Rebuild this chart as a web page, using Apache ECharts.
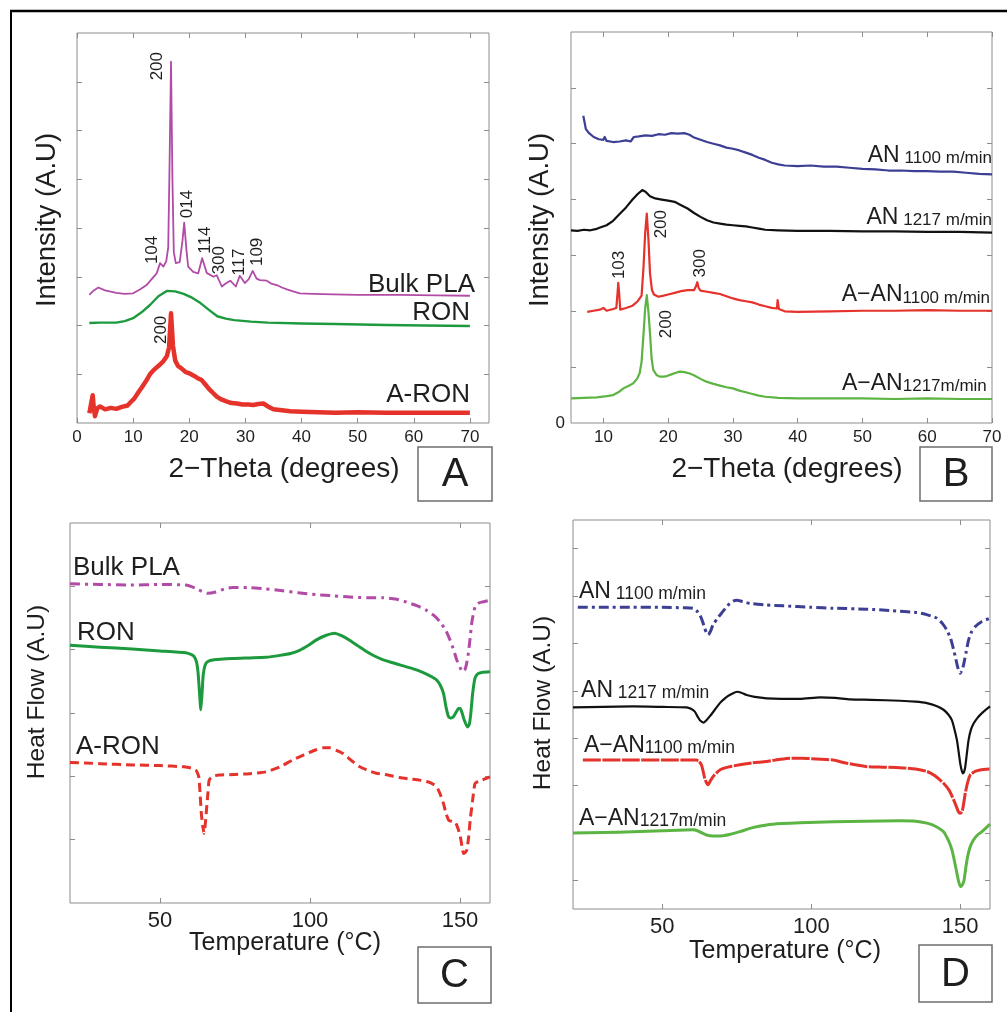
<!DOCTYPE html>
<html>
<head>
<meta charset="utf-8">
<script src="https://cdn.jsdelivr.net/npm/echarts@6/dist/echarts.min.js"></script>
<style>
html, body { margin: 0; padding: 0; background: #fff; }
#main { width: 1007px; height: 1012px; }
</style>
</head>
<body>
<div id="main"></div>
<script>
// XRD (panels A, B) and DSC (panels C, D) curves

// ---- panel A : 2-theta vs intensity
var aBulkPLA = [[2.2,2.63],[3,2.72],[3.8,2.78],[5,2.72],[7,2.67],[8.5,2.65],[10,2.66],[11.2,2.74],[12.4,2.83],[13.3,2.95],[14.2,3.07],[14.8,3.28],[15.4,3.21],[15.9,3.32],[16.25,3.6],[16.45,5.0],[16.75,7.41],[17.0,5.0],[17.25,3.5],[17.6,3.28],[18.3,3.30],[18.8,3.75],[19.1,4.11],[19.5,3.55],[19.8,3.21],[20.7,3.10],[21.6,3.07],[22.3,3.38],[23.1,3.08],[24.3,3.00],[24.9,3.03],[25.8,2.80],[26.5,2.86],[27.3,2.92],[28.3,2.80],[29.0,3.02],[29.9,2.87],[30.6,2.95],[31.3,3.12],[32.0,2.96],[32.6,2.93],[33.8,2.92],[34.6,2.86],[35.6,2.83],[36.5,2.78],[37.4,2.74],[38.5,2.70],[39.7,2.66],[42,2.65],[45.7,2.64],[50,2.63],[57.5,2.63],[64,2.62],[70,2.61]];
var aRON = [[2.2,2.05],[4,2.06],[7,2.06],[8.5,2.09],[10,2.15],[11.5,2.27],[13,2.42],[14.5,2.60],[16,2.71],[17.5,2.70],[19,2.65],[20.5,2.57],[22,2.46],[23.5,2.32],[25,2.19],[26.5,2.14],[28,2.11],[31,2.08],[34,2.06],[40,2.04],[46,2.03],[55,2.01],[62,2.00],[70,1.99]];
var aARON = [[2.2,0.20],[2.6,0.45],[2.8,0.57],[3.0,0.30],[3.2,0.14],[3.6,0.30],[4.1,0.34],[5,0.28],[6,0.31],[7,0.29],[8,0.33],[9,0.36],[9.5,0.42],[10.2,0.50],[11,0.64],[11.6,0.74],[12.3,0.86],[13,1.00],[13.6,1.08],[14.2,1.14],[14.8,1.20],[15.4,1.27],[16,1.37],[16.4,1.55],[16.75,2.25],[17.1,1.58],[17.5,1.28],[18,1.17],[18.6,1.12],[19.3,1.05],[20,1.02],[20.8,0.97],[21.5,0.92],[22.2,0.88],[22.8,0.80],[23.5,0.70],[24.2,0.62],[24.9,0.54],[25.6,0.49],[26.5,0.45],[27.5,0.41],[28.5,0.40],[29.5,0.38],[30.5,0.38],[31.4,0.37],[32.3,0.39],[33.2,0.40],[34,0.34],[35,0.28],[36.5,0.26],[38,0.24],[40,0.23],[43,0.22],[46,0.21],[50,0.22],[55,0.21],[60,0.21],[65,0.21],[70,0.21]];
var aXLabels = [0, 10, 20, 30, 40, 50, 60, 70];
var aYTicks = [1, 2, 3, 4, 5, 6, 7];
var aPeaks = [['200',14.25,7.32],['104',13.36,3.55],['014',19.6,4.49],['114',22.8,3.75],['300',25.3,3.34],['117',28.9,3.30],['109',32.1,3.51],['200',15.1,1.91]];
var aNames = [['Bulk PLA',70.9,2.84],['RON',70.0,2.25],['A-RON',70.0,0.58]];

// ---- panel B
var bAN1100 = [[6.9,5.50],[7.1,5.38],[7.3,5.26],[7.7,5.20],[8.5,5.12],[9.3,5.08],[10,5.07],[10.2,5.12],[10.5,5.05],[11.5,5.03],[12.5,5.04],[13.5,5.06],[14.2,5.04],[14.7,5.12],[15.5,5.13],[16.5,5.15],[17.5,5.14],[18.5,5.17],[19.5,5.16],[20.5,5.19],[21.5,5.18],[22.5,5.19],[23.3,5.16],[24,5.11],[25,5.07],[26,5.03],[27,5.00],[28,4.97],[29,4.93],[30,4.91],[31,4.88],[32,4.84],[33,4.80],[34,4.75],[35,4.71],[36,4.66],[37,4.63],[38,4.61],[40,4.60],[42,4.61],[44,4.59],[46,4.59],[48,4.57],[50,4.55],[52,4.54],[54,4.52],[56,4.52],[58,4.51],[60,4.51],[62,4.50],[64,4.50],[66,4.48],[68,4.46],[70,4.45]];
var bAN1217 = [[5,3.45],[6,3.44],[7,3.46],[8,3.45],[8.8,3.47],[9.5,3.50],[10.5,3.54],[11.5,3.62],[12.5,3.74],[13.5,3.86],[14.5,4.00],[15.3,4.10],[16,4.17],[16.5,4.14],[17.2,4.06],[18,4.02],[19,4.00],[20,3.98],[21,3.96],[22,3.90],[23,3.84],[24,3.76],[25,3.69],[26,3.63],[27,3.59],[28,3.57],[29,3.55],[30,3.54],[31,3.53],[32,3.52],[33,3.50],[34,3.48],[35,3.46],[37,3.45],[40,3.44],[45,3.44],[50,3.43],[55,3.43],[60,3.42],[65,3.42],[70,3.41]];
var bAAN1100 = [[7.5,1.99],[8.5,2.01],[9.5,2.03],[10,2.06],[10.5,2.01],[11.5,2.04],[12.0,2.06],[12.2,2.35],[12.3,2.51],[12.45,2.30],[12.6,2.03],[13.5,2.06],[14.5,2.10],[15.3,2.18],[15.9,2.28],[16.2,2.80],[16.45,3.40],[16.7,3.75],[16.95,3.30],[17.2,2.68],[17.5,2.38],[17.8,2.30],[18.5,2.26],[19.3,2.28],[20,2.30],[21,2.33],[22,2.36],[23,2.38],[24,2.38],[24.3,2.45],[24.5,2.52],[24.7,2.42],[25,2.37],[26,2.35],[27,2.33],[28,2.31],[29,2.27],[30,2.23],[31,2.20],[32,2.18],[33,2.16],[34,2.12],[35,2.09],[36,2.06],[36.8,2.05],[36.9,2.20],[37.1,2.04],[38,2.00],[40,1.99],[45,2.00],[50,2.01],[55,2.01],[60,2.02],[65,2.01],[70,2.01]];
var bAAN1217 = [[5,0.44],[7,0.45],[9,0.46],[10.5,0.48],[11.5,0.50],[12.3,0.55],[13.1,0.62],[14,0.67],[14.6,0.71],[15.2,0.79],[15.6,0.89],[15.9,1.10],[16.2,1.60],[16.45,2.05],[16.7,2.29],[16.95,2.00],[17.2,1.60],[17.45,1.15],[17.7,0.95],[18.2,0.86],[18.7,0.83],[19.3,0.83],[19.8,0.84],[20.5,0.87],[21.2,0.90],[21.8,0.92],[22.5,0.91],[23.2,0.89],[23.9,0.86],[25,0.79],[25.9,0.74],[27,0.70],[28,0.67],[29,0.64],[30,0.62],[31,0.58],[32,0.55],[33,0.52],[34,0.49],[35,0.47],[37,0.45],[40,0.44],[45,0.44],[50,0.44],[55,0.43],[60,0.44],[65,0.43],[70,0.43]];
var bXLabels = [10, 20, 30, 40, 50, 60, 70];
var bYTicks = [1, 2, 3, 4, 5, 6];
var bPeaks = [['200',19.0,3.56],['103',12.4,2.83],['300',24.9,2.86],['200',19.7,1.77]];
var bNames = [['AN',' 1100 m/min',70,4.81],['AN',' 1217 m/min',70,3.70],['A\u2212AN','1100 m/min',69.7,2.31],['A\u2212AN','1217m/min',69.2,0.72]];

// ---- panel C : temperature vs heat flow
var cBulkPLA = [[20,5.04],[30,5.03],[40,5.02],[50,5.03],[58.6,5.02],[61.9,4.97],[64,4.92],[65.8,4.89],[68.6,4.91],[71.5,4.96],[74.2,4.98],[79.8,4.98],[85,4.96],[90.9,4.93],[96,4.90],[102,4.87],[108,4.85],[113.2,4.83],[119,4.82],[124.4,4.82],[128.5,4.80],[132.2,4.75],[135.8,4.69],[138.9,4.62],[141.3,4.54],[143.3,4.44],[145.2,4.31],[146.7,4.15],[148,3.98],[148.9,3.84],[150,3.72],[150.9,3.65],[151.6,3.68],[152.2,3.78],[152.8,3.95],[153.3,4.15],[154,4.45],[155,4.67],[156,4.73],[157.2,4.75],[160,4.78]];
var cRON = [[20,4.07],[30,4.04],[40.7,4.01],[50,3.98],[58.6,3.95],[60.5,3.92],[61.4,3.89],[62.2,3.80],[62.7,3.63],[63.2,3.30],[63.6,3.05],[64.0,3.30],[64.4,3.60],[65,3.75],[65.8,3.81],[68,3.84],[74.2,3.86],[80,3.87],[85.3,3.88],[90,3.91],[93.5,3.94],[96.5,3.99],[99.5,4.07],[102,4.15],[105,4.22],[108.2,4.26],[110.5,4.22],[113.2,4.15],[116,4.06],[118.8,3.97],[121.5,3.90],[124.4,3.84],[130,3.76],[135.5,3.68],[139,3.61],[141,3.56],[142.2,3.52],[143.3,3.45],[144.5,3.31],[145.4,3.08],[146.2,2.94],[147,2.92],[147.8,2.94],[148.8,3.02],[149.5,3.07],[150.1,3.07],[150.7,3.00],[151.4,2.89],[152.5,2.78],[153.1,2.82],[153.6,2.99],[154.2,3.30],[155,3.55],[156,3.62],[157.2,3.64],[160,3.65]];
var cARON = [[20,2.22],[30,2.20],[40.7,2.18],[50,2.17],[58,2.15],[60.5,2.13],[61.9,2.10],[62.6,2.04],[63,1.97],[63.4,1.70],[63.8,1.40],[64.3,1.20],[64.7,1.10],[65.1,1.25],[65.5,1.47],[66,1.75],[66.4,1.94],[67.5,2.00],[69.7,2.02],[75,2.03],[79.8,2.04],[85.3,2.07],[90,2.15],[94.3,2.26],[98,2.34],[102,2.42],[104.5,2.45],[106.5,2.45],[108.8,2.41],[111,2.36],[113.8,2.25],[116.6,2.15],[119.5,2.09],[122.1,2.05],[126,2.02],[129.9,1.98],[133,1.96],[136.6,1.94],[139.5,1.91],[141.3,1.87],[142.2,1.84],[143.4,1.72],[144.5,1.57],[145.3,1.42],[146.2,1.31],[147.3,1.29],[148.4,1.28],[149.3,1.18],[150.1,1.05],[150.7,0.88],[151.2,0.78],[151.8,0.80],[152.3,0.84],[152.9,1.05],[153.4,1.31],[154.2,1.62],[155,1.89],[156,1.92],[157.2,1.94],[160,1.99]];
var cXLabels = [50, 100, 150];
var cYTicks = [1, 2, 3, 4, 5];
var cNames = [['Bulk PLA',21,5.30],['RON',22.3,4.26],['A-RON',22,2.47]];

// ---- panel D
var dAN1100 = [[21.6,5.76],[30,5.76],[40,5.76],[50,5.76],[57,5.75],[60.3,5.74],[61.6,5.68],[62.6,5.60],[63.5,5.46],[64.2,5.32],[64.8,5.22],[65.4,5.18],[66.2,5.26],[67,5.39],[68.4,5.52],[69.8,5.63],[71.2,5.74],[72.6,5.84],[73.8,5.89],[74.9,5.91],[77,5.88],[79.4,5.84],[85,5.81],[90.6,5.79],[100,5.76],[107.4,5.74],[118.6,5.72],[127,5.69],[135.4,5.65],[139,5.60],[142.2,5.53],[144,5.42],[145.5,5.28],[146.8,5.10],[147.8,4.86],[148.5,4.68],[149.1,4.51],[150,4.37],[150.6,4.43],[151.1,4.54],[152,4.82],[152.8,5.07],[153.8,5.24],[155,5.35],[157.3,5.46],[160,5.53]];
var dAN1217 = [[20,3.65],[30,3.66],[40.1,3.67],[50,3.66],[58.1,3.65],[59.6,3.62],[60.9,3.56],[61.8,3.46],[62.6,3.38],[63.9,3.33],[64.8,3.38],[65.9,3.46],[67.5,3.59],[69.3,3.74],[71,3.84],[72.6,3.91],[75.1,3.98],[76.5,3.96],[78.3,3.91],[81,3.87],[85,3.84],[90,3.83],[96.2,3.83],[102.9,3.86],[108,3.85],[113,3.82],[120,3.81],[129.8,3.79],[135,3.77],[138.8,3.74],[142,3.68],[144.4,3.60],[146,3.50],[147.2,3.38],[148.1,3.18],[148.9,2.96],[149.5,2.70],[150,2.47],[150.5,2.32],[150.9,2.26],[151.3,2.29],[151.7,2.40],[152.2,2.66],[152.8,2.96],[153.6,3.18],[154.5,3.31],[155.8,3.43],[157.3,3.53],[160,3.67]];
var dAAN1100 = [[23.3,2.54],[30,2.54],[40,2.54],[50,2.54],[61.4,2.54],[62.3,2.51],[63.1,2.44],[63.7,2.30],[64.2,2.16],[64.8,2.06],[65.4,2.02],[66.1,2.10],[67,2.19],[69.3,2.33],[72,2.39],[76,2.44],[80,2.48],[85,2.51],[89,2.55],[92.8,2.58],[97,2.58],[101.8,2.56],[107.4,2.54],[110,2.50],[113,2.46],[118.6,2.40],[124,2.39],[129.8,2.38],[135,2.35],[138.8,2.30],[141.5,2.21],[144.4,2.05],[146.3,1.90],[147.8,1.70],[148.7,1.56],[149.4,1.45],[150,1.42],[150.6,1.45],[151.1,1.60],[151.7,1.84],[152.5,2.07],[153.4,2.23],[155,2.30],[156.7,2.33],[160,2.35]];
var dAAN1217 = [[20,1.00],[30,1.01],[40.1,1.03],[50,1.05],[60.3,1.07],[61.8,1.05],[63.1,1.01],[64.8,0.96],[67,0.94],[69.8,0.94],[72.5,0.97],[76,1.03],[80,1.11],[85,1.17],[90,1.20],[96.2,1.22],[107.4,1.24],[118,1.25],[129.8,1.26],[135,1.25],[138.8,1.21],[141.5,1.15],[144.4,1.03],[146,0.85],[147.2,0.65],[148.1,0.40],[148.9,0.15],[149.6,-0.05],[150.2,-0.13],[150.8,-0.08],[151.3,0.01],[151.9,0.28],[152.5,0.51],[153.4,0.72],[154.5,0.86],[155.8,0.96],[157.3,1.03],[160,1.19]];
var dXLabels = [50, 100, 150];
var dYTicks = [0, 1, 2, 3, 4, 5, 6, 7];
var dNames = [['AN',' 1100 m/min',22,6.11],['AN',' 1217 m/min',22.7,4.03],['A\u2212AN','1100 m/min',23.7,2.87],['A\u2212AN','1217m/min',22,1.33]];

var FONT = '"Liberation Sans", Arial, Helvetica, sans-serif';
var FRAME = '#8c8c8c';
var INK = '#1e1e1e';

var panels = [
  {grid: {left: 77, top: 33, width: 412, height: 390}, xMin: 0, xMax: 73.4, xTicks: aXLabels, xLabels: aXLabels,
   yMin: 0, yMax: 8, yTicks: aYTicks, yLabels: null, labelSize: 17, labelMargin: 6},
  {grid: {left: 571, top: 32, width: 421, height: 391}, xMin: 5, xMax: 70, xTicks: bXLabels, xLabels: bXLabels,
   yMin: 0, yMax: 7, yTicks: bYTicks, yLabels: [0], labelSize: 17, labelMargin: 6},
  {grid: {left: 70, top: 523, width: 420, height: 380}, xMin: 20, xMax: 160, xTicks: cXLabels, xLabels: cXLabels,
   yMin: 0, yMax: 6, yTicks: cYTicks, yLabels: null, labelSize: 22, labelMargin: 7},
  {grid: {left: 573, top: 520, width: 417, height: 389}, xMin: 20, xMax: 160, xTicks: dXLabels, xLabels: dXLabels,
   yMin: -0.6, yMax: 7.6, yTicks: dYTicks, yLabels: null, labelSize: 22, labelMargin: 7}
];

var grids = [], xAxes = [], yAxes = [];
panels.forEach(function (p, i) {
  grids.push(Object.assign({show: true, borderColor: FRAME, borderWidth: 1, containLabel: false}, p.grid));
  var lbl = {fontSize: p.labelSize, color: INK, fontFamily: FONT, margin: p.labelMargin, showMinLabel: true, showMaxLabel: true};
  function tick(vals) {
    return {show: true, inside: true, length: 5, lineStyle: {color: FRAME, width: 1}, customValues: vals};
  }
  ['bottom', 'top'].forEach(function (pos) {
    xAxes.push({
      type: 'value', gridIndex: i, position: pos, min: p.xMin, max: p.xMax,
      axisLine: {show: false, onZero: false}, splitLine: {show: false}, axisTick: tick(p.xTicks),
      axisLabel: pos === 'bottom' ? Object.assign({customValues: p.xLabels}, lbl) : {show: false}
    });
  });
  ['left', 'right'].forEach(function (pos) {
    var yl = {show: false};
    if (pos === 'left' && p.yLabels) yl = Object.assign({customValues: p.yLabels}, lbl);
    yAxes.push({
      type: 'value', gridIndex: i, position: pos, min: p.yMin, max: p.yMax,
      axisLine: {show: false, onZero: false}, splitLine: {show: false}, axisTick: tick(p.yTicks), axisLabel: yl
    });
  });
});

var series = [];
function addLine(panel, data, color, width, dash, smooth) {
  series.push({
    type: 'line', xAxisIndex: panel * 2, yAxisIndex: panel * 2, data: data,
    showSymbol: false, symbol: 'none', smooth: smooth || false, silent: true, z: 3,
    lineStyle: {color: color, width: width, type: dash || 'solid', cap: 'butt', join: 'round'}
  });
}
addLine(0, aBulkPLA, '#b24ba6', 1.8);
addLine(0, aRON, '#1d9a3e', 2.4);
addLine(0, aARON, '#e5322b', 4.5);
addLine(1, bAN1100, '#3d3f94', 2.2);
addLine(1, bAN1217, '#111111', 2.2);
addLine(1, bAAN1100, '#e5322b', 2.2);
addLine(1, bAAN1217, '#5cb443', 2.2);
addLine(2, cBulkPLA, '#b24ba6', 3, [10, 5, 3, 5], 0.2);
addLine(2, cRON, '#1d9a3e', 3, 'solid', 0.2);
addLine(2, cARON, '#e5322b', 3, [9, 5], 0.2);
addLine(3, dAN1100, '#3d3f94', 3, [10, 4, 3, 4], 0.2);
addLine(3, dAN1217, '#111111', 2.2, 'solid', 0.2);
addLine(3, dAAN1100, '#e5322b', 3, [18, 1.5], 0.2);
addLine(3, dAAN1217, '#5cb443', 3, 'solid', 0.2);

var chart = echarts.init(document.getElementById('main'), null, {renderer: 'canvas'});
chart.setOption({
  animation: false,
  backgroundColor: '#ffffff',
  grid: grids,
  xAxis: xAxes,
  yAxis: yAxes,
  series: series
});

function toPx(panel, x, y) {
  return chart.convertToPixel({xAxisIndex: panel * 2, yAxisIndex: panel * 2}, [x, y]);
}
function text(x, y, str, size, align, rot) {
  return {type: 'text', x: x, y: y, rotation: rot || 0, silent: true, z: 10,
    style: {text: str, fontSize: size, fontFamily: FONT, fill: INK, align: align || 'center', verticalAlign: 'middle'}};
}
function richText(x, y, big, small, bigSize, smallSize, align) {
  return {type: 'text', x: x, y: y, silent: true, z: 10,
    style: {text: '{a|' + big + '}{b|' + small + '}', fill: INK, fontFamily: FONT, align: align, verticalAlign: 'middle',
      rich: {a: {fontSize: bigSize, fontFamily: FONT, fill: INK, verticalAlign: 'bottom', lineHeight: bigSize + 2},
             b: {fontSize: smallSize, fontFamily: FONT, fill: INK, verticalAlign: 'bottom', lineHeight: bigSize + 2}}}};
}

var g = [];
// figure frame
g.push({type: 'line', silent: true, shape: {x1: 10, y1: 11, x2: 1007, y2: 11}, style: {stroke: '#000', lineWidth: 2.5}});
g.push({type: 'line', silent: true, shape: {x1: 11, y1: 10, x2: 11, y2: 1012}, style: {stroke: '#000', lineWidth: 2}});

// peak indices
aPeaks.forEach(function (p) { var q = toPx(0, p[1], p[2]); g.push(text(q[0], q[1], p[0], 17, 'center', Math.PI / 2)); });
bPeaks.forEach(function (p) { var q = toPx(1, p[1], p[2]); g.push(text(q[0], q[1], p[0], 17, 'center', Math.PI / 2)); });

// curve names
aNames.forEach(function (n) { var q = toPx(0, n[1], n[2]); g.push(text(q[0], q[1], n[0], 26, 'right')); });
cNames.forEach(function (n) { var q = toPx(2, n[1], n[2]); g.push(text(q[0], q[1], n[0], 26, 'left')); });
bNames.forEach(function (n) { var q = toPx(1, n[2], n[3]); g.push(richText(q[0], q[1], n[0], n[1], 23, 17, 'right')); });
dNames.forEach(function (n) { var q = toPx(3, n[2], n[3]); g.push(richText(q[0], q[1], n[0], n[1], 23, 17.5, 'left')); });

// axis titles
g.push(text(47, 220, 'Intensity (A.U)', 27.5, 'center', Math.PI / 2));
g.push(text(540, 220, 'Intensity (A.U)', 27.5, 'center', Math.PI / 2));
g.push(text(284, 469, '2\u2212Theta (degrees)', 28, 'center'));
g.push(text(787, 469, '2\u2212Theta (degrees)', 28, 'center'));
g.push(text(37, 692, 'Heat Flow (A.U)', 24.5, 'center', Math.PI / 2));
g.push(text(543, 703, 'Heat Flow (A.U)', 24.5, 'center', Math.PI / 2));
g.push(text(285, 943, 'Temperature (\u00b0C)', 25, 'center'));
g.push(text(785, 951, 'Temperature (\u00b0C)', 25, 'center'));

// panel letters
[['A', 418, 447, 74, 54], ['B', 920, 447, 72, 54], ['C', 418, 947, 73, 56], ['D', 919, 945, 73, 57]].forEach(function (b) {
  g.push({type: 'rect', silent: true, z: 9, shape: {x: b[1], y: b[2], width: b[3], height: b[4]},
    style: {fill: '#fff', stroke: '#6e6e6e', lineWidth: 1.5}});
  g.push(text(b[1] + b[3] / 2, b[2] + b[4] / 2 + 1, b[0], 40, 'center'));
});

chart.setOption({graphic: g});
</script>
</body>
</html>
